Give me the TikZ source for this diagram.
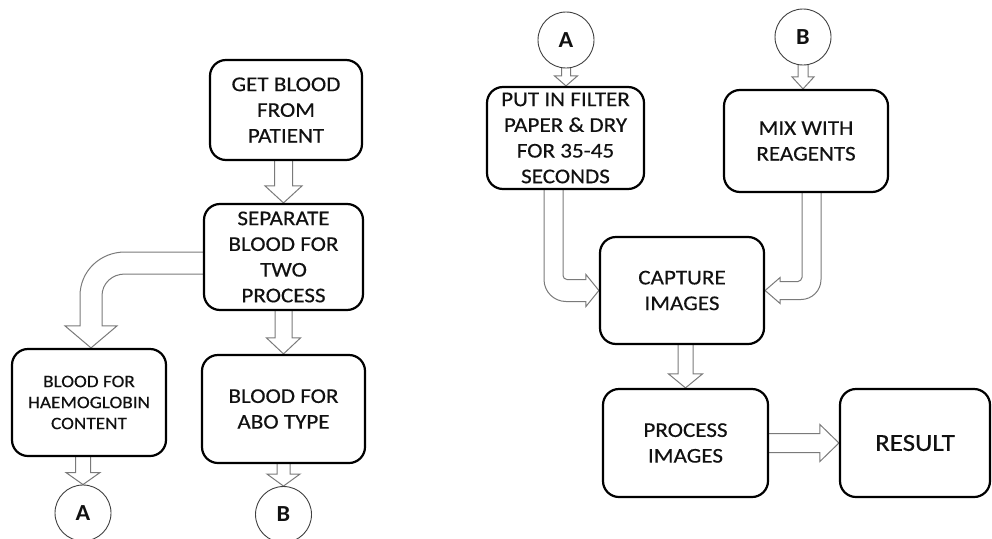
\documentclass[tikz,border=0pt]{standalone}
\usepackage{fontspec}
\setmainfont{Carlito}[FakeStretch=1.1,FakeBold=0.4]
\newfontfamily\circfont{Carlito}[FakeStretch=1.05]
\usetikzlibrary{calc,backgrounds}
\definecolor{arrowgray}{HTML}{7A7A7A}
\definecolor{txt}{HTML}{111111}
\tikzset{
 box/.style={draw=black, line width=2.2pt, rounded corners=16pt, fill=white, inner sep=0pt, align=center, text=txt, font=\fontsize{21}{25.7}\selectfont},
 circ/.style={circle, draw=black!75, line width=0.9pt, fill=white, minimum size=56pt, inner sep=0pt, font=\circfont\fontsize{23}{26}\selectfont\bfseries, text=txt},
 blk/.style={draw=arrowgray, line width=1pt, fill=white, line join=miter},
}
\newcommand{\myvarrow}[6]{%
 \draw[blk] let \p1=(#1.south), \p2=(#2.north), \p3=(#3) in
 (\x3-#4,\y1+4pt) -- (\x3-#4,\y2+#6) -- (\x3-#5,\y2+#6) -- (\x3,\y2) -- (\x3+#5,\y2+#6) -- (\x3+#4,\y2+#6) -- (\x3+#4,\y1+4pt);}
\begin{document}
\begin{tikzpicture}[x=1pt,y=-1pt]
\useasboundingbox (0,0) rectangle (992,538);
% left part
\node[box, minimum width=152pt, minimum height=100pt] (get) at (286,110) {GET BLOOD\\FROM\\PATIENT};
\node[box, minimum width=159pt, minimum height=106pt] (sep) at (283.5,257) {SEPARATE\\BLOOD FOR\\TWO\\PROCESS};
\node[box, minimum width=154pt, minimum height=107pt, font=\fontsize{17.5}{21}\selectfont] (hae) at (89,402.5) {BLOOD FOR\\HAEMOGLOBIN\\CONTENT};
\node[box, minimum width=163pt, minimum height=108pt] (abo) at (283.5,409) {BLOOD FOR\\ABO TYPE};
\node[circ] (cA1) at (83,513) {A};
\node[circ] (cB1) at (283.5,514.5) {B};
% right part
\node[circ] (cA2) at (566,40) {A};
\node[circ] (cB2) at (803,37) {B};
\node[box, minimum width=157pt, minimum height=102pt] (put) at (565.5,138) {PUT IN FILTER\\PAPER \& DRY\\FOR 35-45\\SECONDS};
\node[box, minimum width=164pt, minimum height=102pt] (mix) at (806,141) {MIX WITH\\REAGENTS};
\node[box, minimum width=164pt, minimum height=107pt] (cap) at (682,290.5) {CAPTURE\\IMAGES};
\node[box, minimum width=165pt, minimum height=108pt] (proc) at (685.5,443) {PROCESS\\IMAGES};
\node[box, minimum width=150pt, minimum height=108pt, font=\fontsize{24.5}{28}\selectfont] (res) at (915,443) {RESULT};
\begin{pgfonlayer}{background}
\myvarrow{get}{sep}{sep.north}{9pt}{18.5pt}{17pt}
\myvarrow{sep}{abo}{abo.north}{8.5pt}{17pt}{16pt}
\myvarrow{hae}{cA1}{cA1.north}{7.5pt}{17pt}{12pt}
\myvarrow{abo}{cB1}{cB1.north}{6.5pt}{16.5pt}{12pt}
\myvarrow{cA2}{put}{cA2.south}{4.5pt}{11.5pt}{10pt}
\myvarrow{cB2}{mix}{cB2.south}{5pt}{11pt}{12pt}
\myvarrow{cap}{proc}{proc.north}{7.5pt}{17pt}{14pt}
% separate -> haemoglobin (curved)
\draw[blk] let \p1=(sep.west), \p2=(hae.north) in
 (\x1+4pt,\y1+5pt) -- (\x2+36pt,\y1+5pt)
 .. controls (\x2+11.15pt,\y1+5pt) and (\x2-9pt,\y2+76.85pt) .. (\x2-9pt,\y2+52pt)
 -- (\x2-9pt,\y2+22pt) -- (\x2-24pt,\y2+22pt) -- (\x2+2pt,\y2) -- (\x2+28pt,\y2+22pt) -- (\x2+13pt,\y2+22pt)
 -- (\x2+13pt,\y2+52pt)
 .. controls (\x2+13pt,\y2+64.7pt) and (\x2+23.3pt,\y1-17pt) .. (\x2+36pt,\y1-17pt)
 -- (\x1+4pt,\y1-17pt);
% put -> capture (bent)
\draw[blk] let \p1=(put.south), \p2=(cap.west) in
 (\x1-21.5pt,\y1+4pt) -- (\x1-21.5pt,\y2+11pt)
 .. controls (\x1-21.5pt,\y2-1.15pt) and (\x1-11.65pt,\y2-11pt) .. (\x1+0.5pt,\y2-11pt)
 -- (\x2-13pt,\y2-11pt) -- (\x2-13pt,\y2-16pt) -- (\x2,\y2) -- (\x2-13pt,\y2+16pt) -- (\x2-13pt,\y2+11pt)
 -- (\x1+1.5pt,\y2+11pt)
 .. controls (\x1-0.7pt,\y2+11pt) and (\x1-2.5pt,\y2+12.8pt) .. (\x1-2.5pt,\y2+15pt)
 -- (\x1-2.5pt,\y1+4pt);
% mix -> capture (bent)
\draw[blk] let \p1=(mix.south), \p2=(cap.east) in
 (\x1-4pt,\y1+4pt) -- (\x1-4pt,\y2+13pt)
 .. controls (\x1-4pt,\y2+11.2pt) and (\x1-6.2pt,\y2+9pt) .. (\x1-8pt,\y2+9pt)
 -- (\x2+15pt,\y2+9pt) -- (\x2+15pt,\y2+13pt) -- (\x2,\y2) -- (\x2+15pt,\y2-13pt) -- (\x2+15pt,\y2-9pt)
 -- (\x1-5pt,\y2-9pt)
 .. controls (\x1+6.05pt,\y2-9pt) and (\x1+15pt,\y2-0.05pt) .. (\x1+15pt,\y2+11pt)
 -- (\x1+15pt,\y1+4pt);
% process -> result
\draw[blk] let \p1=(proc.east), \p2=(res.west) in
 (\x1-4pt,\y1+9.5pt) -- (\x2-19pt,\y1+9.5pt) -- (\x2-19pt,\y1+18.5pt) -- (\x2,\y2)
 -- (\x2-19pt,\y1-18.5pt) -- (\x2-19pt,\y1-9.5pt) -- (\x1-4pt,\y1-9.5pt);
\end{pgfonlayer}
\end{tikzpicture}
\end{document}
